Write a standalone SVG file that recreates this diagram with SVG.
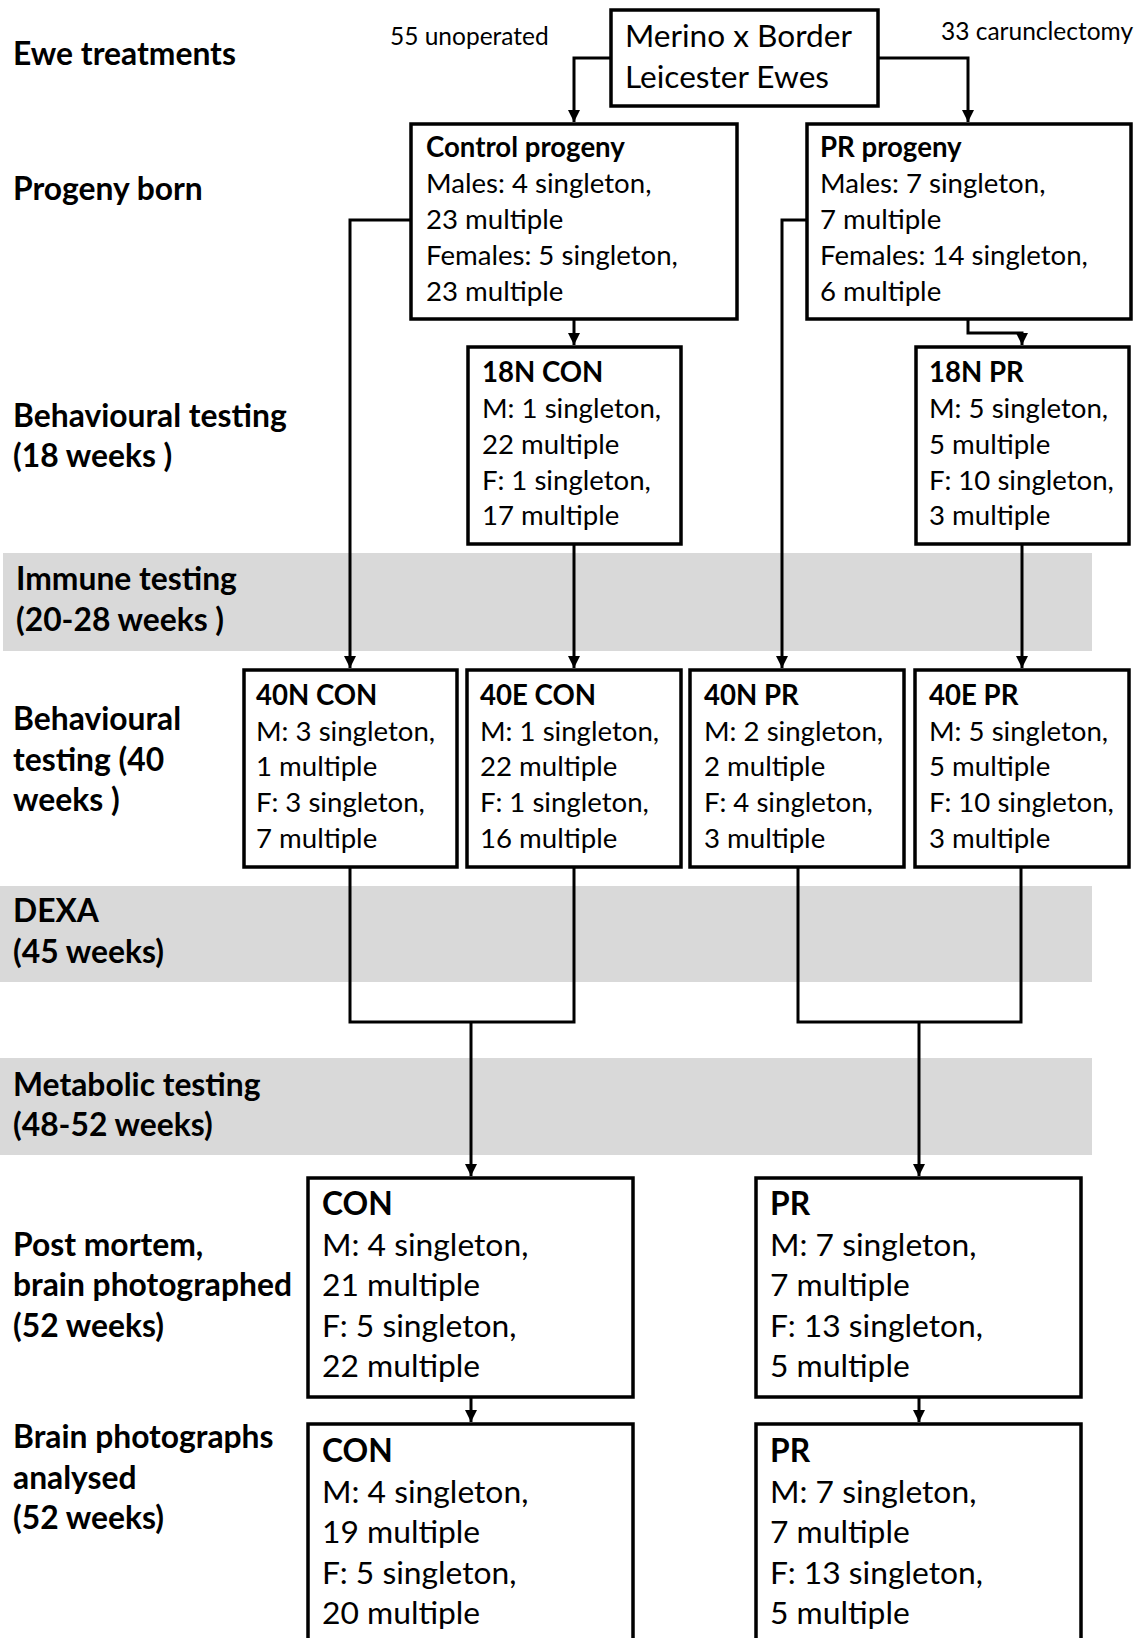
<svg xmlns="http://www.w3.org/2000/svg" width="1142" height="1638" viewBox="0 0 1142 1638">
<style>
text{font-family:Lato,"Open Sans","Liberation Sans",sans-serif;fill:#000}
.lab{font-weight:bold;font-size:31.8px}
.t{font-size:27.6px}
.h{font-size:27.6px;font-weight:bold}
.tb{font-size:31.8px}
.hb{font-size:31.8px;font-weight:bold}
.top{font-size:31.6px}
.sm{font-size:24.5px}
.box{fill:#fff;stroke:#000;stroke-width:3.5}
.band{fill:#d9d9d9}
.con{fill:none;stroke:#000;stroke-width:3}
.arr{fill:none;stroke:#000;stroke-width:3;marker-end:url(#ah)}
</style>
<defs>
<marker id="ah" markerUnits="userSpaceOnUse" markerWidth="12" markerHeight="12" refX="11" refY="5.5" orient="auto" viewBox="0 0 11 11">
<path d="M0,0 L11,5.5 L0,11 z" fill="#000"/>
</marker>
</defs>
<rect width="1142" height="1638" fill="#fff"/>
<g id="bands">
<rect class="band" x="3" y="553" width="1089" height="98"/>
<rect class="band" x="0" y="886" width="1092" height="96"/>
<rect class="band" x="0" y="1058" width="1092" height="97"/>
</g>
<g id="labels">
<text class="lab" x="13" y="65">Ewe treatments</text>
<text class="lab" x="13" y="200">Progeny born</text>
<text class="lab" x="13" y="427">Behavioural testing</text>
<text class="lab" x="13" y="467">(18 weeks )</text>
<text class="lab" x="16" y="590">Immune testing</text>
<text class="lab" x="16" y="631">(20-28 weeks )</text>
<text class="lab" x="13" y="730">Behavioural</text>
<text class="lab" x="13" y="771">testing (40</text>
<text class="lab" x="13" y="811">weeks )</text>
<text class="lab" x="13" y="922">DEXA</text>
<text class="lab" x="13" y="963">(45 weeks)</text>
<text class="lab" x="13" y="1096">Metabolic testing</text>
<text class="lab" x="13" y="1136">(48-52 weeks)</text>
<text class="lab" x="13" y="1256">Post mortem,</text>
<text class="lab" x="13" y="1296">brain photographed</text>
<text class="lab" x="13" y="1337">(52 weeks)</text>
<text class="lab" x="13" y="1448">Brain photographs</text>
<text class="lab" x="13" y="1489">analysed</text>
<text class="lab" x="13" y="1529">(52 weeks)</text>
<text class="sm" x="390" y="45">55 unoperated</text>
<text class="sm" x="941" y="40">33 carunclectomy</text>
</g>
<g id="connectors">
<path class="arr" d="M611,58 H574 V122"/>
<path class="arr" d="M878,58 H968 V122"/>
<path class="arr" d="M411,220 H350 V668"/>
<path class="arr" d="M574,319 V345"/>
<path class="arr" d="M574,544 V668"/>
<path class="arr" d="M807,220 H782 V668"/>
<path class="arr" d="M968,319 V333 H1022 V345"/>
<path class="arr" d="M1022,544 V668"/>
<path class="con" d="M350,867 V1022 H574 V867"/>
<path class="arr" d="M471,1022 V1176"/>
<path class="con" d="M798,867 V1022 H1021 V867"/>
<path class="arr" d="M919,1022 V1176"/>
<path class="arr" d="M471,1397 V1422"/>
<path class="arr" d="M919,1397 V1422"/>
</g>
<g id="ewes">
<rect class="box" x="611" y="10" width="267" height="96"/>
<text class="top" x="625" y="47">Merino x Border</text>
<text class="top" x="625" y="88">Leicester Ewes</text>
</g>
<g id="control-progeny">
<rect class="box" x="411" y="124" width="326" height="195"/>
<text class="h" x="426" y="157">Control progeny</text>
<text class="t" x="426" y="193">Males: 4 singleton,</text>
<text class="t" x="426" y="229">23 multiple</text>
<text class="t" x="426" y="265">Females: 5 singleton,</text>
<text class="t" x="426" y="301">23 multiple</text>
</g>
<g id="pr-progeny">
<rect class="box" x="807" y="124" width="324" height="195"/>
<text class="h" x="820" y="157">PR progeny</text>
<text class="t" x="820" y="193">Males: 7 singleton,</text>
<text class="t" x="820" y="229">7 multiple</text>
<text class="t" x="820" y="265">Females: 14 singleton,</text>
<text class="t" x="820" y="301">6 multiple</text>
</g>
<g id="n18-con">
<rect class="box" x="468" y="347" width="213" height="197"/>
<text class="h" x="482" y="382">18N CON</text>
<text class="t" x="482" y="418">M: 1 singleton,</text>
<text class="t" x="482" y="454">22 multiple</text>
<text class="t" x="482" y="490">F: 1 singleton,</text>
<text class="t" x="482" y="525">17 multiple</text>
</g>
<g id="n18-pr">
<rect class="box" x="916" y="347" width="213" height="197"/>
<text class="h" x="929" y="382">18N PR</text>
<text class="t" x="929" y="418">M: 5 singleton,</text>
<text class="t" x="929" y="454">5 multiple</text>
<text class="t" x="929" y="490">F: 10 singleton,</text>
<text class="t" x="929" y="525">3 multiple</text>
</g>
<g id="n40-con">
<rect class="box" x="244" y="670" width="213" height="197"/>
<text class="h" x="256" y="705">40N CON</text>
<text class="t" x="256" y="741">M: 3 singleton,</text>
<text class="t" x="256" y="776">1 multiple</text>
<text class="t" x="256" y="812">F: 3 singleton,</text>
<text class="t" x="256" y="848">7 multiple</text>
</g>
<g id="e40-con">
<rect class="box" x="467" y="670" width="214" height="197"/>
<text class="h" x="480" y="705">40E CON</text>
<text class="t" x="480" y="741">M: 1 singleton,</text>
<text class="t" x="480" y="776">22 multiple</text>
<text class="t" x="480" y="812">F: 1 singleton,</text>
<text class="t" x="480" y="848">16 multiple</text>
</g>
<g id="n40-pr">
<rect class="box" x="690" y="670" width="214" height="197"/>
<text class="h" x="704" y="705">40N PR</text>
<text class="t" x="704" y="741">M: 2 singleton,</text>
<text class="t" x="704" y="776">2 multiple</text>
<text class="t" x="704" y="812">F: 4 singleton,</text>
<text class="t" x="704" y="848">3 multiple</text>
</g>
<g id="e40-pr">
<rect class="box" x="915" y="670" width="214" height="197"/>
<text class="h" x="929" y="705">40E PR</text>
<text class="t" x="929" y="741">M: 5 singleton,</text>
<text class="t" x="929" y="776">5 multiple</text>
<text class="t" x="929" y="812">F: 10 singleton,</text>
<text class="t" x="929" y="848">3 multiple</text>
</g>
<g id="pm-con">
<rect class="box" x="308" y="1178" width="325" height="219"/>
<text class="hb" x="322" y="1215">CON</text>
<text class="tb" x="322" y="1256">M: 4 singleton,</text>
<text class="tb" x="322" y="1296">21 multiple</text>
<text class="tb" x="322" y="1337">F: 5 singleton,</text>
<text class="tb" x="322" y="1377">22 multiple</text>
</g>
<g id="pm-pr">
<rect class="box" x="756" y="1178" width="325" height="219"/>
<text class="hb" x="770" y="1215">PR</text>
<text class="tb" x="770" y="1256">M: 7 singleton,</text>
<text class="tb" x="770" y="1296">7 multiple</text>
<text class="tb" x="770" y="1337">F: 13 singleton,</text>
<text class="tb" x="770" y="1377">5 multiple</text>
</g>
<g id="bp-con">
<rect class="box" x="308" y="1424" width="325" height="230"/>
<text class="hb" x="322" y="1462">CON</text>
<text class="tb" x="322" y="1503">M: 4 singleton,</text>
<text class="tb" x="322" y="1543">19 multiple</text>
<text class="tb" x="322" y="1584">F: 5 singleton,</text>
<text class="tb" x="322" y="1624">20 multiple</text>
</g>
<g id="bp-pr">
<rect class="box" x="756" y="1424" width="325" height="230"/>
<text class="hb" x="770" y="1462">PR</text>
<text class="tb" x="770" y="1503">M: 7 singleton,</text>
<text class="tb" x="770" y="1543">7 multiple</text>
<text class="tb" x="770" y="1584">F: 13 singleton,</text>
<text class="tb" x="770" y="1624">5 multiple</text>
</g>
</svg>
